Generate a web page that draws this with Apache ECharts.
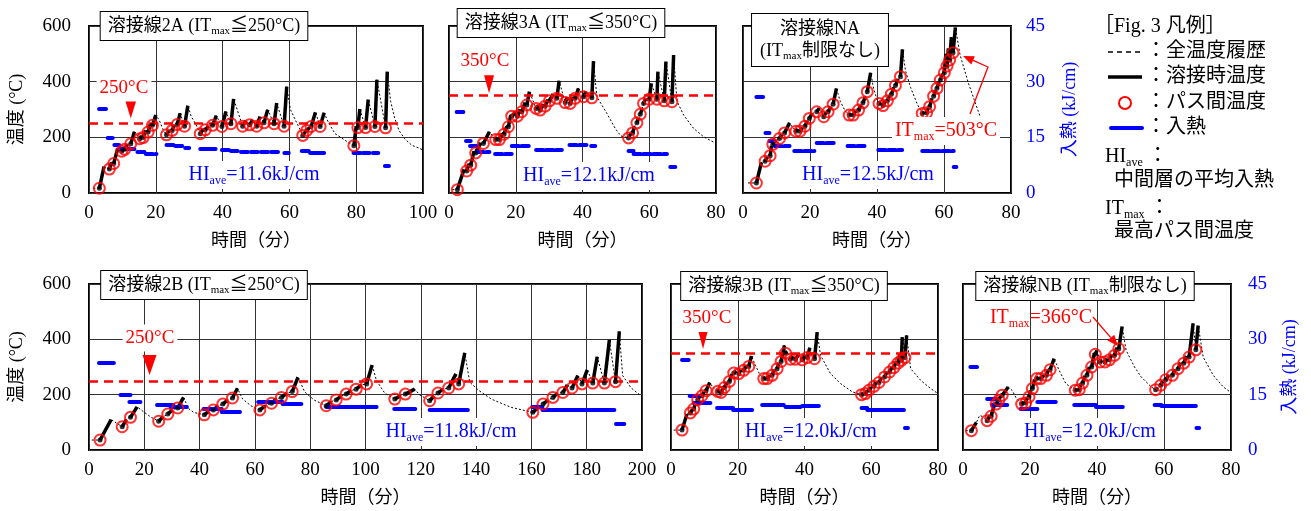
<!DOCTYPE html>
<html><head><meta charset="utf-8">
<script src="https://cdn.jsdelivr.net/npm/echarts@6/dist/echarts.min.js"></script>
<style>html,body{margin:0;padding:0;background:#fff}#c{width:1311px;height:511px}</style>
</head><body><div id="c"></div>
<script>
const FONT = '"Liberation Serif","Times New Roman","Noto Sans CJK JP",serif';
const RED = '#ff0000', BLUE = '#0000ff';

// ---- tick labels ----
const tempTicks = [0, 200, 400, 600];
const hiTicks = [0, 15, 30, 45];

// ---- data: passes [t_interpass, T_interpass, t_peak, T_peak] (min, °C) ----
const passes2A = [
 [3.1,17,4.5,95],[6.1,86,6.8,110],[7.4,106,8.6,160],[9.8,150,10.3,165],[10.7,157,11.5,175],[12.5,177,13.6,220],[15.2,195,15.7,205],[16.2,199,17.0,225],[17.7,219,18.4,250],[19.0,243,20.0,280],
 [23.2,209,24.0,225],[24.9,225,25.6,245],[26.4,246,27.3,287],[28.6,240,29.6,314],
 [33.3,213,34.2,230],[34.8,227,35.8,240],[37.0,243,38.1,278],[39.8,239,41.0,293],[42.5,249,43.3,338],[46.0,240,47.0,260],[48.1,245,49.0,263],[50.2,240,51.2,275],[52.4,252,53.5,299],[55.4,249,56.2,323],[58.4,240,59.2,382],
 [64.0,207,64.8,220],[65.2,225,66.0,235],[66.5,239,67.8,290],[69.2,239,70.4,288],
 [79.3,170,80.0,240],[80.5,235,81.1,302],[82.8,235,83.6,336],[85.6,239,86.2,407],[88.8,234,89.3,436]
];
const cool2A = [
 [[1.3,17],[3.1,17]],
 [[20.0,280],[21.0,262],[22.3,225],[23.2,209]],
 [[29.6,314],[30.6,275],[31.9,249],[33.3,213]],
 [[59.2,382],[60.3,300],[61.8,262],[64.0,207]],
 [[70.4,288],[71.8,250],[73.7,213],[76.7,189],[79.3,170]],
 [[89.3,436],[90.3,330],[91.5,270],[92.8,225],[94.5,195],[96.6,172],[100,155]]
];
const hi2A = [[3,5.1,22.7],[5.6,7.1,14.9],[7.6,9,13.1],[9.2,11.5,12.0],[11.5,14,11.8],[14.5,17,11.0],[17,20.2,10.6],[23.2,25.5,12.9],[25.8,28.3,12.7],[28.8,30,12.2],[33.3,35.5,12.0],[35.8,38.3,11.8],[39.8,42,11.7],[42.5,44.5,11.5],[45.5,48,11.2],[48.5,51,11.1],[51.5,54,11.1],[54.5,57,11.1],[58.5,59.8,10.8],[63.7,65.8,11.3],[66.2,68,10.9],[68.3,70.5,10.9],[79.2,81.5,10.9],[82,84,10.9],[85,86.6,10.9],[88.6,89.8,7.3]];

const passes3A = [
 [2.5,12,4.5,85],[5.3,79,6.0,105],[6.5,100,7.5,150],[8.0,144,9.5,180],[10.3,178,12.1,220],
 [14.0,192,14.6,200],[15.1,192,16.0,215],[16.5,211,17.3,240],[17.8,238,18.5,280],[18.8,276,20.0,290],[20.5,276,21.3,300],[21.8,292,22.8,325],[23.3,316,24.1,364],
 [26.1,304,26.8,315],[27.3,298,28.2,320],[28.8,312,29.6,335],[30.1,331,31.2,355],[32.3,340,33.0,403],[34.8,325,35.5,345],[36.3,322,37.0,345],[37.8,340,38.8,376],[40.3,346,41.0,365],[42.8,342,43.3,474],
 [53.8,198,54.5,215],[55.0,216,55.6,240],[56.3,252,56.8,270],[57.3,283,57.8,300],[58.3,322,59.0,340],[60.0,337,60.6,394],[62.3,337,62.6,436],[64.5,331,65.0,472],[66.8,328,67.3,496]
];
const cool3A = [
 [[1.0,12],[2.5,12]],
 [[12.1,220],[13,205],[14.0,192]],
 [[43.3,474],[44.3,346],[47.3,286],[49.8,232],[51.5,205],[53.8,198]],
 [[67.3,496],[68.3,330],[70.3,280],[73.3,232],[76.3,202],[80,178]]
];
const hi3A = [[2.3,4.3,22.0],[5.1,6.5,14.2],[6.3,8.3,12.6],[8.3,12.1,11.0],[13.8,18.8,10.6],[18.8,24.3,12.6],[26.1,33.8,11.6],[36.1,41.3,13.1],[42.6,43.8,12.6],[53.8,55.3,11.3],[55.3,65.3,10.6],[66.3,67.8,7.0]];

const passesNA = [
 [4.0,36,5.5,110],[6.6,114,7.3,130],[8.1,134,8.5,170],[8.9,175,9.8,190],[10.9,196,11.6,210],[12.4,216,13.9,252],
 [15.8,222,16.4,230],[17.0,222,17.8,235],[18.5,240,19.2,260],[19.8,268,20.6,285],[22.0,292,22.8,305],[24.1,274,24.8,290],[25.4,292,26.2,310],[26.9,319,27.9,376],
 [31.7,280,32.3,285],[32.9,280,33.7,295],[34.5,298,35.2,315],[35.8,324,36.5,345],[37.1,364,38.1,432],
 [40.6,322,41.2,325],[41.8,314,42.5,330],[43.1,331,43.8,350],[44.3,355,45.0,380],[45.5,386,46.3,410],[47.0,418,47.6,516],
 [53.5,286,54.2,290],[54.8,288,55.3,305],[55.7,310,56.4,340],[56.9,348,57.5,370],[57.9,376,58.5,400],[58.9,406,59.6,428],[60.1,432,60.6,500],[60.9,456,61.3,520],[61.7,478,62.2,560],[62.7,504,63.4,595]
];
const coolNA = [
 [[1.5,36],[4.0,36]],
 [[13.9,252],[14.8,235],[15.8,222]],
 [[27.9,376],[29,330],[30.5,295],[31.7,280]],
 [[38.1,432],[39,375],[40,335],[40.6,322]],
 [[47.6,516],[48.5,440],[50,380],[52,320],[53.5,286]],
 [[63.4,595],[64.8,496],[67.3,394],[70.8,274],[72.5,250]]
];
const hiNA = [[4,6,25.9],[6.7,7.9,16.2],[7.9,9.4,14.2],[9.4,13.9,12.7],[15.3,21.3,11.5],[22,27.7,13.5],[31.2,37.1,12.6],[40.4,47.5,11.7],[53.5,62.9,11.5],[62.9,63.7,7.0]];

const passes2B = [
 [4.0,36,8.0,110],[12.0,84,13.5,110],[15.0,118,17.4,156],
 [25.2,104,26.8,120],[28.5,130,30.2,145],[32.1,152,34.2,190],
 [41.7,127,43.3,140],[45.0,145,46.7,160],[48.4,166,50.1,180],[51.9,188,53.7,223],
 [61.8,145,63.8,160],[66.0,169,67.8,185],[69.6,190,71.5,205],[73.5,211,75.6,263],
 [85.8,160,87.6,175],[89.4,181,91.2,195],[93.0,202,94.8,215],[96.6,220,98.5,235],[100.4,239,102.4,307],
 [110.6,184,112.5,195],[114.4,202,117.8,220],
 [123.2,178,124.8,195],[126.2,206,128.0,220],[130.1,224,132.7,275],[133.7,239,135.9,351],
 [160.5,136,162.5,155],[164.2,166,166.0,180],[167.8,190,169.5,205],[171.4,208,173.0,235],[174.7,224,176.8,269],[178.3,239,180.2,290],[182.2,242,183.8,337],[186.4,242,188.2,398],[190.4,247,191.8,429]
];
const cool2B = [
 [[1,36],[4.0,36]],
 [[17.4,156],[19.5,140],[22.5,118],[25.2,104]],
 [[34.2,190],[36,150],[37.8,136],[41.7,127]],
 [[53.7,223],[55.5,185],[58.5,160],[61.8,145]],
 [[75.6,263],[78,210],[81.5,180],[85.8,160]],
 [[102.4,307],[104,250],[107,205],[110.6,184]],
 [[117.8,220],[119.5,200],[123.2,178]],
 [[135.9,351],[137.7,245],[141,215],[145.5,184],[152.7,154],[160.5,136]],
 [[191.8,429],[193,269],[196,225],[199.6,196]]
];
const hi2B = [[3.6,9,23.6],[11.4,15,15.0],[14.6,18.6,13.2],[24.6,30.5,12.2],[29.5,35.4,11.6],[41.4,48,11.1],[48,54.6,10.4],[61.2,70,13.1],[70,76.8,12.5],[85.8,104,11.7],[110.4,118,11.1],[123.2,137,10.8],[160.3,164,11.6],[164,190,10.8],[190.6,193.6,7.1]];

const passes3B = [
 [3.3,72,4.8,130],[5.8,134,6.3,145],[6.8,148,7.5,175],[8.0,182,8.7,195],[9.3,196,9.9,210],[10.5,214,11.6,244],
 [14.0,212,14.5,215],[15.0,208,15.5,222],[16.0,226,16.8,245],[17.5,248,18.2,275],[18.8,278,19.6,285],[20.3,276,21.0,290],[21.8,288,22.6,305],[23.3,302,24.1,340],
 [27.8,258,28.3,262],[28.8,258,29.6,270],[30.3,270,31.0,290],[31.8,294,32.4,315],[33.0,320,34.0,378],[34.3,350,34.9,355],[35.8,328,36.5,340],[37.3,328,38.3,345],[39.3,326,40.0,345],[40.8,334,41.6,370],[43.0,330,43.8,426],
 [57.1,200,57.7,205],[58.3,204,58.8,215],[59.3,216,60.0,228],[60.8,230,61.5,245],[62.3,244,63.1,262],[64.0,264,64.7,282],[65.5,282,66.2,300],[66.8,298,67.4,320],[68.0,314,68.7,350],[69.0,324,69.3,408],[70.1,334,70.6,414]
];
const cool3B = [
 [[0.8,72],[3.3,72]],
 [[11.6,244],[12.8,222],[14.0,212]],
 [[24.1,340],[25.3,306],[26.5,275],[27.8,258]],
 [[43.8,426],[44.8,342],[47.8,276],[50.8,240],[54.3,210],[57.1,200]],
 [[70.6,414],[71.8,294],[74.8,252],[77.8,222],[80,204]]
];
const hi3B = [[3.3,5.3,24.5],[5.6,8.8,14.7],[6.8,11.8,12.8],[13.8,18.6,11.4],[18.6,24.3,11.0],[27.3,33.8,12.4],[34.3,38.8,11.7],[39.3,44.3,12.0],[57.1,58.8,11.4],[58.8,69.8,10.8],[70.1,71,5.9]];

const passesNB = [
 [2.5,70,4.0,100],[7.2,106,8.0,125],[8.4,122,9.3,160],[9.9,166,10.3,175],[10.7,180,11.2,195],[11.7,198,13.5,228],
 [17.5,166,18.2,175],[18.7,170,19.2,190],[19.7,192,20.2,215],[20.7,222,21.4,255],[22.0,258,22.6,262],[23.2,258,24.2,270],[24.9,270,25.5,290],[26.0,290,27.2,330],
 [33.5,216,34.0,220],[34.7,218,35.2,240],[35.7,242,36.4,268],[37.0,270,37.7,300],[38.4,300,39.2,350],[39.5,346,40.0,360],[40.9,318,41.6,325],[42.4,318,43.0,330],[43.7,326,44.4,345],[45.2,342,45.9,370],[46.5,366,47.5,446],
 [57.5,218,58.2,225],[59.0,234,59.7,250],[60.5,254,61.4,270],[62.5,270,63.3,292],[64.2,294,65.0,315],[65.9,314,66.7,340],[67.5,336,68.7,458],[69.5,362,70.2,450]
];
const coolNB = [
 [[0.8,70],[2.5,70]],
 [[4.0,100],[5.0,125],[6.0,120],[7.2,106]],
 [[13.5,228],[14.7,215],[16,185],[17.5,166]],
 [[27.2,330],[28.7,288],[30.7,240],[32.7,222],[33.5,216]],
 [[47.5,446],[48.7,360],[51.2,300],[53.2,264],[56.2,228],[57.5,218]],
 [[70.2,450],[71.7,336],[74.7,270],[77.7,228],[79.7,210]]
];
const hiNB = [[2.2,4.2,22.5],[7.2,9.7,14.0],[8.7,13.2,12.4],[17.2,22.2,11.3],[22.2,27.7,13.1],[33.2,39.7,12.2],[39.7,47.7,11.7],[57.2,59.2,12.4],[59.2,69.5,11.9],[69.7,70.5,6.0]];

// ---- annotations (values) ----
const limits = {'2A':250,'3A':350,'2B':250,'3B':350};
const limitArrow = {'2A':[12.5,300],'3A':[12.0,391],'2B':[21.9,307],'3B':[9.6,396]};
const hiAve = {'2A':'11.6','3A':'12.1','NA':'12.5','2B':'11.8','3B':'12.0','NB':'12.0'};

// ---- layout ----
const panels = [
 {id:'2A', passes:passes2A, cool:cool2A, hi:hi2A, xmax:100, left:89, top:26, width:334, height:167, showLeft:true, triSize:[11,18], dashHi:true},
 {id:'3A', passes:passes3A, cool:cool3A, hi:hi3A, xmax:80, left:449, top:26, width:267, height:167, triSize:[10,18], dashHi:true},
 {id:'NA', passes:passesNA, cool:coolNA, hi:hiNA, xmax:80, left:743, top:26, width:268, height:167, showRight:true, rMargin:15, dashHi:true},
 {id:'2B', passes:passes2B, cool:cool2B, hi:hi2B, xmax:200, left:89, top:284, width:553, height:166, showLeft:true, triSize:[14,20]},
 {id:'3B', passes:passes3B, cool:cool3B, hi:hi3B, xmax:80, left:671, top:284, width:267, height:166, triSize:[9,17]},
 {id:'NB', passes:passesNB, cool:coolNB, hi:hiNB, xmax:80, left:963, top:284, width:268, height:166, showRight:true, rMargin:17}
];

const grids = [], xAxes = [], yAxes = [], series = [];
panels.forEach((p, i) => {
  grids.push({left:p.left, top:p.top, width:p.width, height:p.height, show:true, borderColor:'#000', borderWidth:2, backgroundColor:'transparent'});
  xAxes.push({gridIndex:i, type:'value', min:0, max:p.xmax, interval:20,
    name:'時間（分）', nameLocation:'middle', nameGap:39,
    nameTextStyle:{fontFamily:FONT, fontSize:18, color:'#000'},
    axisLine:{show:false}, axisTick:{show:false},
    axisLabel:{fontFamily:FONT, fontSize:19, color:'#000', margin:11},
    splitLine:{show:true, lineStyle:{color:'#333', width:1}}});
  yAxes.push({gridIndex:i, type:'value', min:tempTicks[0], max:tempTicks[3], interval:200, position:'left',
    name: p.showLeft ? '温度 (°C)' : '', nameLocation:'middle', nameGap:63, nameRotate:90,
    nameTextStyle:{fontFamily:FONT, fontSize:18, color:'#000'},
    axisLine:{show:false}, axisTick:{show:false},
    axisLabel:{show:!!p.showLeft, fontFamily:FONT, fontSize:19, color:'#000', margin:18},
    splitLine:{show:true, lineStyle:{color:'#333', width:1}}});
  yAxes.push({gridIndex:i, type:'value', min:hiTicks[0], max:hiTicks[3], interval:15, position:'right',
    name: p.showRight ? '入熱 (kJ/cm)' : '', nameLocation:'middle', nameGap:50, nameRotate:90,
    nameTextStyle:{fontFamily:FONT, fontSize:18, color:BLUE},
    axisLine:{show:false}, axisTick:{show:false},
    axisLabel:{show:!!p.showRight, fontFamily:FONT, fontSize:19, color:BLUE, margin:p.rMargin||15},
    splitLine:{show:false}});

  const yL = 2*i, yR = 2*i+1;
  // full temperature history (dashed)
  const hist = [];
  p.passes.forEach(q => { hist.push([q[0],q[1]]); hist.push([q[2],q[3]]); });
  p.cool.forEach(seg => seg.forEach(pt => hist.push(pt)));
  hist.sort((a,b) => a[0]-b[0]);
  const histSeries = {type:'line', xAxisIndex:i, yAxisIndex:yL, data:hist, symbol:'none', silent:true, z:2,
    lineStyle:{color:'#000', width:1, type:[2,2]}, animation:false};
  if (limits[p.id] !== undefined) {
    histSeries.markLine = {silent:true, symbol:'none', label:{show:false}, animation:false,
      lineStyle:{color:RED, width:2.5, type:[9,6]}, data:[{yAxis:limits[p.id]}]};
    histSeries.markPoint = {silent:true, animation:false, label:{show:false},
      data:[{coord:limitArrow[p.id], symbol:'triangle', symbolRotate:180, symbolSize:p.triSize, itemStyle:{color:RED}}]};
  }
  series.push(histSeries);
  // welding temperature (solid thick)
  series.push({type:'lines', coordinateSystem:'cartesian2d', xAxisIndex:i, yAxisIndex:yL, silent:true, z:3, animation:false,
    lineStyle:{color:'#000', width:3.5, opacity:1, curveness:0},
    data:p.passes.map(q => ({coords:[[q[0],q[1]],[q[2],q[3]]]}))});
  // heat input
  series.push({type:'lines', coordinateSystem:'cartesian2d', xAxisIndex:i, yAxisIndex:yR, silent:true, z:4, animation:false,
    lineStyle:{color:BLUE, width:4, opacity:1, curveness:0, cap:'round', type: p.dashHi ? [7,3] : 'solid'},
    data:p.hi.map(h => ({coords:[[h[0],h[2]],[h[1],h[2]]]}))});
  // interpass dots and rings
  const ip = p.passes.map(q => [q[0],q[1]]);
  series.push({type:'scatter', xAxisIndex:i, yAxisIndex:yL, data:ip, symbol:'circle', symbolSize:5, silent:true, z:5, animation:false,
    itemStyle:{color:'#000'}});
  series.push({type:'scatter', xAxisIndex:i, yAxisIndex:yL, data:ip, symbol:'circle', symbolSize:11, silent:true, z:6, animation:false,
    itemStyle:{color:'rgba(0,0,0,0)', borderColor:RED, borderWidth:2}});
});

// ---- graphic texts ----
function rich(F, color) {
  return {
    a:{fontSize:F, fontFamily:FONT, fill:color, lineHeight:F+4},
    s:{fontSize:Math.round(F*0.62), fontFamily:FONT, fill:color, lineHeight:Math.round(F*0.62)+1, verticalAlign:'bottom'}
  };
}
function txt(x, y, text, F, color, extra) {
  return Object.assign({type:'text', x:x, y:y, z:100, silent:true,
    style:Object.assign({text:text, rich:rich(F,color), align:'center', verticalAlign:'middle'}, extra||{})});
}
const boxStyle = {backgroundColor:'#fff', borderColor:'#000', borderWidth:1, padding:[3,7]};
const whiteBg = {backgroundColor:'#fff', padding:[2,3]};
const els = [];
// titles
els.push(txt(204, 26, '{a|溶接線2A (IT}{s|max}{a|≦250°C)}', 18, '#000', boxStyle));
els.push(txt(561, 23, '{a|溶接線3A (IT}{s|max}{a|≦350°C)}', 18, '#000', boxStyle));
els.push(txt(820, 40, '{a|溶接線NA}\n{a|(IT}{s|max}{a|制限なし)}', 18, '#000', Object.assign({}, boxStyle, {padding:[4,8]})));
els.push(txt(204, 285, '{a|溶接線2B (IT}{s|max}{a|≦250°C)}', 18, '#000', boxStyle));
els.push(txt(784, 286, '{a|溶接線3B (IT}{s|max}{a|≦350°C)}', 18, '#000', boxStyle));
els.push(txt(1085, 286, '{a|溶接線NB (IT}{s|max}{a|制限なし)}', 18, '#000', boxStyle));
// limit labels
els.push(txt(124, 88, '{a|' + limits['2A'] + '°C}', 19, RED, whiteBg));
els.push(txt(485, 61, '{a|' + limits['3A'] + '°C}', 19, RED, whiteBg));
els.push(txt(150, 338, '{a|' + limits['2B'] + '°C}', 19, RED, whiteBg));
els.push(txt(707, 318, '{a|' + limits['3B'] + '°C}', 19, RED, whiteBg));
// HI ave
const hiPos = {'2A':[254,175],'3A':[589,176],'NA':[868,175],'2B':[451,432],'3B':[811,432],'NB':[1090,432]};
Object.keys(hiPos).forEach(k => {
  els.push(txt(hiPos[k][0], hiPos[k][1], '{a|HI}{s|ave}{a|=' + hiAve[k] + 'kJ/cm}', 20, BLUE, whiteBg));
});
// IT max notes
els.push(txt(946, 131, '{a|IT}{s|max}{a|=503°C}', 20, RED, whiteBg));
els.push(txt(1041, 318, '{a|IT}{s|max}{a|=366°C}', 20, RED, {padding:[1,2]}));
// arrows
function arrow(pts) {
  const n = pts.length, a = pts[n-2], b = pts[n-1];
  const dx = b[0]-a[0], dy = b[1]-a[1], L = Math.hypot(dx,dy), ux = dx/L, uy = dy/L;
  const hl = 11, hw = 4.5;
  const base = [b[0]-ux*hl, b[1]-uy*hl];
  const line = pts.slice(0, n-1).concat([base]);
  return [
    {type:'polyline', z:101, silent:true, shape:{points:line}, style:{stroke:RED, lineWidth:1.3, fill:null}},
    {type:'polygon', z:101, silent:true, shape:{points:[b,[base[0]-uy*hw, base[1]+ux*hw],[base[0]+uy*hw, base[1]-ux*hw]]}, style:{fill:RED}}
  ];
}
arrow([[970,114],[988,67],[963,56]]).forEach(e => els.push(e));
arrow([[1093,317],[1118,346]]).forEach(e => els.push(e));

// legend block
const LF = 20;
function ltxt(x, y, text) {
  return {type:'text', x:x, y:y, z:100, silent:true, style:{text:text, rich:rich(LF,'#000'), align:'left', verticalAlign:'middle'}};
}
els.push(ltxt(1094, 27, '{a|［Fig. 3 凡例］}'));
els.push({type:'line', z:100, silent:true, shape:{x1:1108,y1:52,x2:1142,y2:52}, style:{stroke:'#000', lineWidth:1.5, lineDash:[5,4]}});
els.push(ltxt(1146, 52, '{a|：全温度履歴}'));
els.push({type:'line', z:100, silent:true, shape:{x1:1108,y1:77,x2:1142,y2:77}, style:{stroke:'#000', lineWidth:3.5}});
els.push(ltxt(1146, 77, '{a|：溶接時温度}'));
els.push({type:'circle', z:100, silent:true, shape:{cx:1125, cy:103, r:6}, style:{fill:'none', stroke:RED, lineWidth:2}});
els.push(ltxt(1146, 103, '{a|：パス間温度}'));
els.push({type:'line', z:100, silent:true, shape:{x1:1111,y1:128,x2:1142,y2:128}, style:{stroke:BLUE, lineWidth:4, lineCap:'round'}});
els.push(ltxt(1146, 128, '{a|：入熱}'));
els.push(ltxt(1105, 157, '{a|HI}{s|ave}{a| ：}'));
els.push(ltxt(1114, 181, '{a|中間層の平均入熱}'));
els.push(ltxt(1105, 209, '{a|IT}{s|max}{a| ：}'));
els.push(ltxt(1114, 232, '{a|最高パス間温度}'));

const chart = echarts.init(document.getElementById('c'), null, {renderer:'canvas'});
chart.setOption({
  animation:false,
  backgroundColor:'#fff',
  grid:grids, xAxis:xAxes, yAxis:yAxes, series:series,
  graphic:{elements:els}
});
</script></body></html>
